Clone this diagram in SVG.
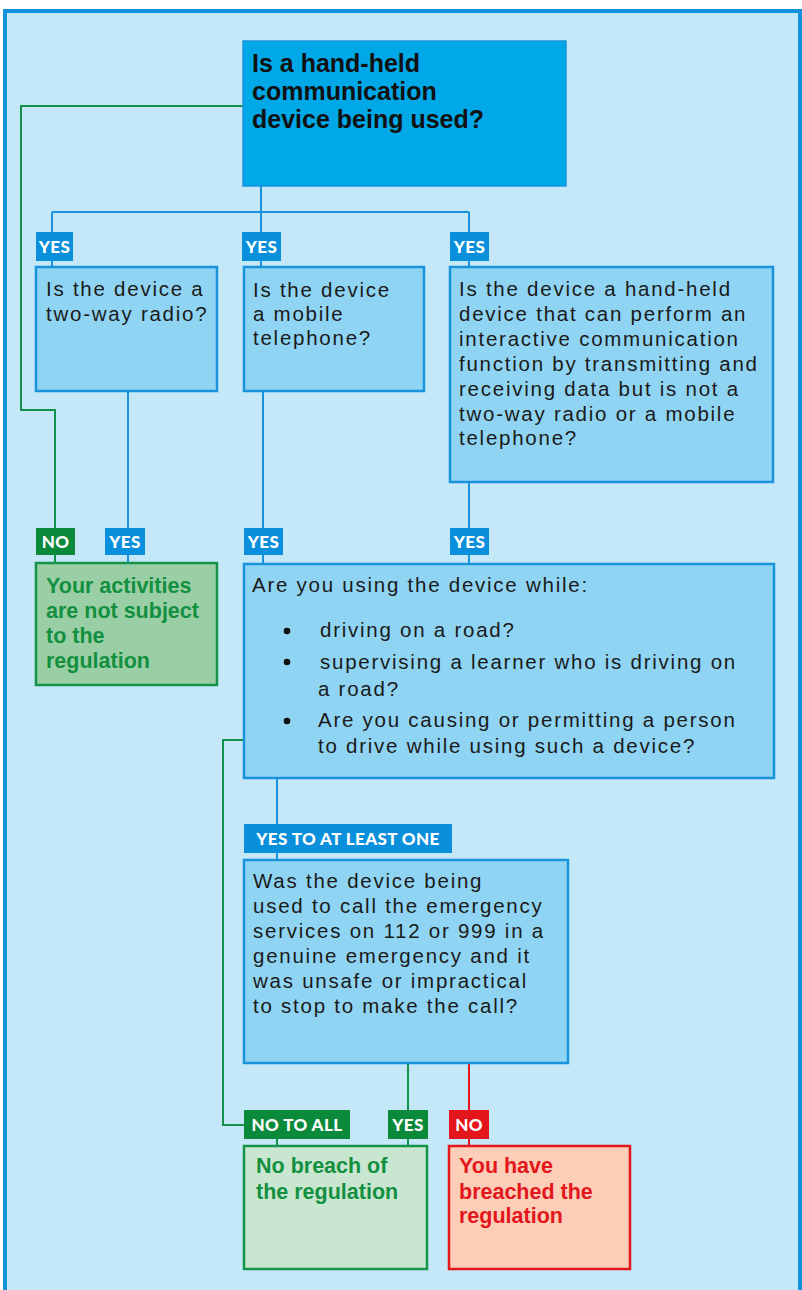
<svg xmlns="http://www.w3.org/2000/svg" width="802" height="1290" viewBox="0 0 802 1290">
<style>
.frame{fill:#c5e8f8;stroke:#1592dc;stroke-width:4}
.q{fill:#90d4f3;stroke:#1a93dd;stroke-width:2.5}
.top{fill:#00a8e8;stroke:#1a93dd;stroke-width:1.5}
.t{font-family:"Liberation Sans",Arial,sans-serif;font-size:20.5px;letter-spacing:1.75px;fill:#1a1a1a}
.tt{font-family:"Liberation Sans",Arial,sans-serif;font-size:25px;font-weight:bold;fill:#111}
.lb{font-family:Lato,"Liberation Sans",sans-serif;font-size:17px;font-weight:900;letter-spacing:0.4px;fill:#fff}
.lblue{fill:#0a8fdc}
.lgreen{fill:#0b8a3b}
.lred{fill:#e3161c}
.cb{fill:none;stroke:#1a93dd;stroke-width:2}
.cg{fill:none;stroke:#13904a;stroke-width:2}
.cr{fill:none;stroke:#e3161c;stroke-width:2}
.gbox1{fill:#9acfa5;stroke:#13944a;stroke-width:2.5}
.gbox2{fill:#c9e6d0;stroke:#13944a;stroke-width:2.5}
.rbox{fill:#fccdb7;stroke:#e3161c;stroke-width:2.5}
.gt{font-family:"Liberation Sans",Arial,sans-serif;font-size:21.5px;font-weight:bold;fill:#12903f}
.rt{font-family:"Liberation Sans",Arial,sans-serif;font-size:21.5px;font-weight:bold;fill:#e3161c}
</style>
<rect x="0" y="0" width="802" height="1290" fill="#ffffff"/>
<rect class="frame" x="5" y="11" width="795" height="1290"/>

<g id="connectors">
<path class="cb" d="M261,186 V212 M52,212 H469 M52,212 V267 M261,212 V267 M469,212 V267"/>
<path class="cg" d="M243,106 H21 V410 H55 V563"/>
<path class="cb" d="M128,391 V563"/>
<path class="cb" d="M263,391 V564"/>
<path class="cb" d="M469,482 V564"/>
<path class="cb" d="M277,778 V860"/>
<path class="cg" d="M244,740 H223 V1125 H244"/>
<path class="cg" d="M277,1139 V1146"/>
<path class="cg" d="M408,1063 V1146"/>
<path class="cr" d="M469,1063 V1146"/>
</g>

<g id="labels">
<g id="lbl-yes1"><rect class="lblue" x="36" y="232" width="37" height="29"/><text class="lb" x="54.5" y="252.5" text-anchor="middle">YES</text></g>
<g id="lbl-yes2"><rect class="lblue" x="242" y="232" width="39" height="29"/><text class="lb" x="261.5" y="252.5" text-anchor="middle">YES</text></g>
<g id="lbl-yes3"><rect class="lblue" x="450" y="232" width="39" height="29"/><text class="lb" x="469.5" y="252.5" text-anchor="middle">YES</text></g>
<g id="lbl-no1"><rect class="lgreen" x="36" y="528" width="39" height="27"/><text class="lb" x="55.5" y="547.5" text-anchor="middle">NO</text></g>
<g id="lbl-yes4"><rect class="lblue" x="105" y="528" width="40" height="27"/><text class="lb" x="125" y="547.5" text-anchor="middle">YES</text></g>
<g id="lbl-yes5"><rect class="lblue" x="244" y="528" width="39" height="27"/><text class="lb" x="263.5" y="547.5" text-anchor="middle">YES</text></g>
<g id="lbl-yes6"><rect class="lblue" x="450" y="528" width="39" height="27"/><text class="lb" x="469.5" y="547.5" text-anchor="middle">YES</text></g>
<g id="lbl-atleast"><rect class="lblue" x="244" y="824" width="208" height="29"/><text class="lb" x="348" y="844.5" text-anchor="middle">YES TO AT LEAST ONE</text></g>
<g id="lbl-notoall"><rect class="lgreen" x="244" y="1110" width="106" height="29"/><text class="lb" x="297" y="1130.5" text-anchor="middle">NO TO ALL</text></g>
<g id="lbl-yes7"><rect class="lgreen" x="388" y="1110" width="40" height="29"/><text class="lb" x="408" y="1130.5" text-anchor="middle">YES</text></g>
<g id="lbl-no2"><rect class="lred" x="449" y="1110" width="40" height="29"/><text class="lb" x="469" y="1130.5" text-anchor="middle">NO</text></g>
</g>

<g id="n-start">
<rect class="top" x="243" y="41" width="323" height="145"/>
<text class="tt" x="252"><tspan x="252" y="72">Is a hand-held</tspan><tspan x="252" y="100">communication</tspan><tspan x="252" y="128">device being used?</tspan></text>
</g>

<g id="n-radio">
<rect class="q" x="36" y="267" width="181" height="124"/>
<text class="t"><tspan x="46" y="296">Is the device a</tspan><tspan x="46" y="321">two-way radio?</tspan></text>
</g>

<g id="n-mobile">
<rect class="q" x="244" y="267" width="180" height="124"/>
<text class="t"><tspan x="253" y="297">Is the device</tspan><tspan x="253" y="321">a mobile</tspan><tspan x="253" y="345">telephone?</tspan></text>
</g>

<g id="n-other">
<rect class="q" x="450" y="267" width="323" height="215"/>
<text class="t"><tspan x="459" y="296">Is the device a hand-held</tspan><tspan x="459" y="321">device that can perform an</tspan><tspan x="459" y="346">interactive communication</tspan><tspan x="459" y="371">function by transmitting and</tspan><tspan x="459" y="396">receiving data but is not a</tspan><tspan x="459" y="421">two-way radio or a mobile</tspan><tspan x="459" y="445">telephone?</tspan></text>
</g>

<g id="n-notsubject">
<rect class="gbox1" x="36" y="563" width="181" height="122"/>
<text class="gt"><tspan x="46" y="593">Your activities</tspan><tspan x="46" y="618">are not subject</tspan><tspan x="46" y="643">to the</tspan><tspan x="46" y="668">regulation</tspan></text>
</g>

<g id="n-using">
<rect class="q" x="244" y="564" width="530" height="214"/>
<text class="t"><tspan x="252" y="592">Are you using the device while:</tspan><tspan x="320" y="637">driving on a road?</tspan><tspan x="320" y="669">supervising a learner who is driving on</tspan><tspan x="318" y="696">a road?</tspan><tspan x="318" y="727">Are you causing or permitting a person</tspan><tspan x="318" y="753">to drive while using such a device?</tspan></text>
<circle cx="287" cy="631" r="3.3" fill="#111"/>
<circle cx="287" cy="662" r="3.3" fill="#111"/>
<circle cx="287" cy="721" r="3.3" fill="#111"/>
</g>

<g id="n-emergency">
<rect class="q" x="244" y="860" width="324" height="203"/>
<text class="t"><tspan x="253" y="888">Was the device being</tspan><tspan x="253" y="913">used to call the emergency</tspan><tspan x="253" y="938">services on 112 or 999 in a</tspan><tspan x="253" y="963">genuine emergency and it</tspan><tspan x="253" y="988">was unsafe or impractical</tspan><tspan x="253" y="1013">to stop to make the call?</tspan></text>
</g>

<g id="n-nobreach">
<rect class="gbox2" x="244" y="1146" width="183" height="123"/>
<text class="gt"><tspan x="256" y="1173">No breach of</tspan><tspan x="256" y="1199">the regulation</tspan></text>
</g>

<g id="n-breach">
<rect class="rbox" x="449" y="1146" width="181" height="123"/>
<text class="rt"><tspan x="459" y="1173">You have</tspan><tspan x="459" y="1199">breached the</tspan><tspan x="459" y="1223">regulation</tspan></text>
</g>
</svg>
